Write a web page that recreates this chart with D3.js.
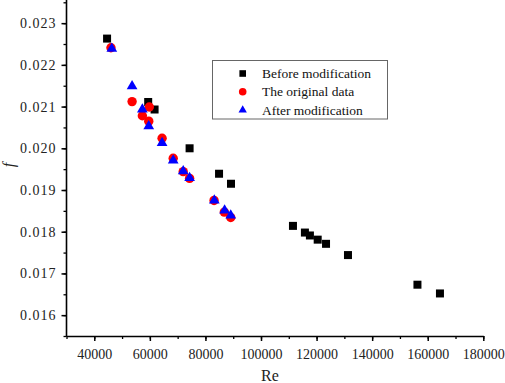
<!DOCTYPE html>
<html><head><meta charset="utf-8">
<script src="https://cdn.jsdelivr.net/npm/d3@7"></script>
<style>body{margin:0;background:#fff}svg{display:block}</style>
</head><body>
<svg id="c" width="505" height="383"></svg>
<script>
const beforeRe = [44600, 59400, 61700, 74300, 84900, 89200, 111500, 115800, 117600, 120400, 123400, 131300, 156300, 164400];
const beforeF  = [0.02263, 0.02111, 0.02093, 0.02000, 0.01939, 0.01915, 0.01814, 0.01798, 0.01791, 0.01781, 0.01771, 0.01744, 0.01673, 0.01652];
const origRe = [46000, 53600, 57300, 59800, 59600, 64400, 68400, 72000, 74300, 83100, 86800, 89100];
const origF  = [0.02241, 0.02112, 0.02078, 0.02099, 0.02065, 0.02024, 0.01976, 0.01944, 0.01928, 0.01875, 0.01847, 0.01834];
const afterRe = [46300, 53600, 57300, 59600, 64400, 68400, 72000, 74300, 83200, 86900, 89100];
const afterF  = [0.02239, 0.02149, 0.02093, 0.02053, 0.02013, 0.01971, 0.01945, 0.01929, 0.01875, 0.01851, 0.01839];
const xTicks = [40000, 60000, 80000, 100000, 120000, 140000, 160000, 180000];
const yTicks = [0.016, 0.017, 0.018, 0.019, 0.020, 0.021, 0.022, 0.023];
const legendLabels = ["Before modification", "The original data", "After modification"];

const svg = d3.select("#c");
const x = d3.scaleLinear().domain([30000, 180000]).range([66.5, 483.3]);
const y = d3.scaleLinear().domain([0.0155, 0.0235]).range([336, 2.3]);
const serif = "'Liberation Serif','Times New Roman',serif";

// minor ticks
const xMinor = d3.range(30000, 180001, 10000);
const yMinor = d3.range(0, 17).map(i => 0.0155 + i * 0.0005);
svg.append("g").attr("transform", "translate(0,336)")
  .call(d3.axisBottom(x).tickValues(xMinor).tickSize(3).tickSizeOuter(0).tickFormat(""))
  .call(g => g.select(".domain").remove())
  .call(g => g.selectAll("line").attr("stroke-width", 1.3));
svg.append("g").attr("transform", "translate(66.5,0)")
  .call(d3.axisLeft(y).tickValues(yMinor).tickSize(3).tickSizeOuter(0).tickFormat(""))
  .call(g => g.select(".domain").remove())
  .call(g => g.selectAll("line").attr("stroke-width", 1.3));

// major axes
const gx = svg.append("g").attr("transform", "translate(0,336)")
  .call(d3.axisBottom(x).tickValues(xTicks).tickSize(5).tickSizeOuter(0).tickPadding(5).tickFormat(d3.format("d")));
gx.select(".domain").attr("stroke-width", 1.6);
gx.selectAll("line").attr("stroke-width", 1.5);
gx.selectAll("text").attr("font-family", serif).attr("font-size", 14).attr("fill", "#222").attr("dy", "0.9em");

const gy = svg.append("g").attr("transform", "translate(66.5,0)")
  .call(d3.axisLeft(y).tickValues(yTicks).tickSize(5).tickSizeOuter(0).tickPadding(5).tickFormat(d3.format(".3f")));
gy.select(".domain").attr("stroke-width", 1.6).attr("d", "M0,0V336.8");
gy.selectAll("line").attr("stroke-width", 1.5);
gy.selectAll("text").attr("font-family", serif).attr("font-size", 14).attr("fill", "#222").style("letter-spacing", "1px");

// axis titles
svg.append("text").attr("x", 270).attr("y", 381).attr("text-anchor", "middle")
  .attr("font-family", serif).attr("font-size", 16).attr("fill", "#222").text("Re");
svg.append("text").attr("transform", "translate(14,165) rotate(-90)").attr("text-anchor", "middle")
  .attr("font-family", serif).attr("font-style", "italic").attr("font-size", 16).attr("fill", "#222").text("f");

// data
const before = beforeRe.map((r, i) => ({r, f: beforeF[i]}));
const orig = origRe.map((r, i) => ({r, f: origF[i]}));
const after = afterRe.map((r, i) => ({r, f: afterF[i]}));

svg.append("g").selectAll("rect").data(before).join("rect")
  .attr("x", d => x(d.r) - 4).attr("y", d => y(d.f) - 4).attr("width", 8).attr("height", 8).attr("fill", "#000");
svg.append("g").selectAll("circle").data(orig).join("circle")
  .attr("cx", d => x(d.r)).attr("cy", d => y(d.f)).attr("r", 4.7).attr("fill", "#ff0000");
const tri = d3.symbol().type(d3.symbolTriangle).size(50);
svg.append("g").selectAll("path").data(after).join("path")
  .attr("d", tri).attr("transform", d => `translate(${x(d.r)},${y(d.f)})`).attr("fill", "#0000ff");

// legend
const lg = svg.append("g");
lg.append("rect").attr("x", 212.5).attr("y", 60.5).attr("width", 175).attr("height", 58.5)
  .attr("fill", "#fff").attr("stroke", "#666").attr("stroke-width", 1);
const rows = [73.5, 91.7, 110];
lg.append("rect").attr("x", 242.7 - 3.3).attr("y", rows[0] - 3.3).attr("width", 6.6).attr("height", 6.6).attr("fill", "#000");
lg.append("circle").attr("cx", 242.7).attr("cy", rows[1]).attr("r", 3.8).attr("fill", "#ff0000");
lg.append("path").attr("d", d3.symbol().type(d3.symbolTriangle).size(30)).attr("transform", `translate(242.7,${rows[2]})`).attr("fill", "#0000ff");
lg.selectAll("text.l").data(legendLabels).join("text").attr("class", "l")
  .attr("x", 262).attr("y", (d, i) => rows[i]).attr("dy", "0.35em")
  .attr("font-family", serif).attr("font-size", 13.5).attr("fill", "#111").text(d => d);
</script>
</body></html>
